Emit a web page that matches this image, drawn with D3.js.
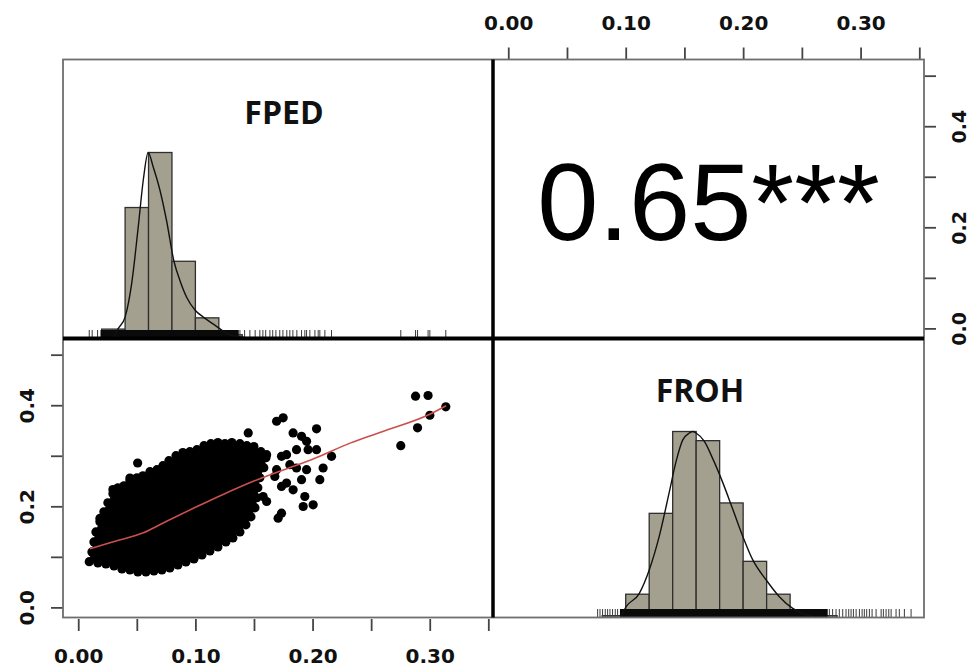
<!DOCTYPE html>
<html>
<head>
<meta charset="utf-8">
<script src="https://cdn.jsdelivr.net/npm/d3@7"></script>
<style>
  html, body { margin: 0; padding: 0; background: #ffffff; }
  svg { display: block; }
</style>
</head>
<body>
<svg id="chart" width="972" height="669"></svg>
<script>
// ---- Variables and correlation ----
const variables = ["FPED", "FROH"];
const corrValue = "0.65";
const corrStars = "***";

// ---- Axis ticks ----
const xTicks = [0, 0.05, 0.10, 0.15, 0.20, 0.25, 0.30, 0.35];
const xTickLabels = ["0.00", "", "0.10", "", "0.20", "", "0.30", ""];
const yTicks = [0, 0.1, 0.2, 0.3, 0.4, 0.5];
const yTickLabels = ["0.0", "", "0.2", "", "0.4", ""];

// ---- FPED histogram (bin starts, density) and density curve ----
const binWidth = 0.02;
const fpedBinStart = [0.02, 0.04, 0.06, 0.08, 0.10, 0.12, 0.14];
const fpedDensity  = [1.1, 15.35, 21.8, 9.05, 2.42, 0.44, 0.11];
const fpedCurveX = [0.030, 0.034, 0.040, 0.0456, 0.0512, 0.0555, 0.0597, 0.064, 0.0697, 0.0754, 0.0817, 0.0868, 0.0925, 0.100, 0.1067, 0.115, 0.121, 0.129, 0.142];
const fpedCurveY = [0.0, 1.13, 2.51, 6.43, 13.06, 18.55, 21.8, 20.1, 17.4, 13.8, 9.05, 6.8, 4.84, 3.29, 2.51, 1.72, 1.13, 0.44, 0.11];

// ---- FROH histogram and density curve ----
const frohBinStart = [0.08, 0.10, 0.12, 0.14, 0.16, 0.18, 0.20, 0.22, 0.24, 0.26];
const frohDensity  = [0.13, 1.68, 7.51, 13.41, 12.75, 8.26, 4.05, 1.68, 0.40, 0.13];
const frohCurveX = [0.0963, 0.0988, 0.1116, 0.1201, 0.1286, 0.1371, 0.1428, 0.1485, 0.1542, 0.1570, 0.1599, 0.1670, 0.1740, 0.1825, 0.1911, 0.1996, 0.2081, 0.2195, 0.2308, 0.2422, 0.2507, 0.2606];
const frohCurveY = [0.0, 0.54, 1.74, 3.45, 5.87, 9.04, 11.22, 12.79, 13.3, 13.41, 13.3, 12.69, 11.47, 9.76, 7.82, 5.87, 4.17, 2.72, 1.50, 0.66, 0.30, 0.05];

// ---- Rug marks: dense range plus individual ticks ----
const fpedRugBand = [0.019, 0.137];
const fpedRugTicks = [0.0094, 0.0119, 0.0165, 0.138, 0.142, 0.1465, 0.151, 0.155, 0.1576, 0.160, 0.1636, 0.166, 0.1687, 0.172, 0.1747, 0.178, 0.1806, 0.1832, 0.1866, 0.1906, 0.1934, 0.1949, 0.1977, 0.202, 0.2048, 0.2062, 0.2105, 0.2162, 0.2753, 0.2879, 0.2896, 0.2986, 0.3001, 0.3137];
const frohRugBand = [0.0951, 0.272];
const frohRugTicks = [0.0761, 0.0781, 0.0803, 0.0826, 0.0846, 0.0866, 0.0888, 0.0911, 0.0931, 0.2734, 0.2762, 0.2791, 0.2819, 0.2848, 0.2876, 0.2899, 0.2919, 0.2939, 0.2962, 0.2990, 0.3013, 0.3032, 0.3052, 0.3075, 0.3098, 0.3132, 0.3175, 0.3194, 0.3217, 0.3240, 0.3260, 0.3302, 0.3330, 0.3373, 0.3430];

// ---- Scatter: outline of the dense core (FPED, FROH) ----
const coreX = [0.0094, 0.0117, 0.0134, 0.0151, 0.0185, 0.0219, 0.0253, 0.0296, 0.0339, 0.0390, 0.0441, 0.0501, 0.0552, 0.0612, 0.0672, 0.0723, 0.0774, 0.0834, 0.0893, 0.0953, 0.1013, 0.1073, 0.1132, 0.1192, 0.1252, 0.1311, 0.1380, 0.1439, 0.1499, 0.1559, 0.1602, 0.1584, 0.1550, 0.1533, 0.1525, 0.1508, 0.1474, 0.1431, 0.1380, 0.1320, 0.1260, 0.1192, 0.1124, 0.1056, 0.0987, 0.0919, 0.0851, 0.0782, 0.0714, 0.0646, 0.0578, 0.0509, 0.0441, 0.0373, 0.0305, 0.0236, 0.0168];
const coreY = [0.0905, 0.1097, 0.1296, 0.1494, 0.1692, 0.1891, 0.2069, 0.2248, 0.2367, 0.2407, 0.2506, 0.2565, 0.2605, 0.2685, 0.2724, 0.2804, 0.2903, 0.3002, 0.3062, 0.3081, 0.3121, 0.3200, 0.3240, 0.3260, 0.3240, 0.3260, 0.3240, 0.3200, 0.3181, 0.3081, 0.2962, 0.2764, 0.2565, 0.2367, 0.2169, 0.1970, 0.1792, 0.1633, 0.1494, 0.1375, 0.1296, 0.1196, 0.1117, 0.1038, 0.0958, 0.0899, 0.0839, 0.0780, 0.0740, 0.0720, 0.0700, 0.0700, 0.0740, 0.0760, 0.0820, 0.0859, 0.0879];

// ---- Scatter: individual points outside the core ----
const pointX = [0.0507, 0.0296, 0.0441, 0.0185, 0.1451, 0.1693, 0.1749, 0.1834, 0.1906, 0.1949, 0.2034, 0.1608, 0.1735, 0.1778, 0.1863, 0.1962, 0.2034, 0.2162, 0.1806, 0.1693, 0.1863, 0.1949, 0.2090, 0.1678, 0.1778, 0.1906, 0.2062, 0.1735, 0.1834, 0.1934, 0.1920, 0.2005, 0.1608, 0.1578, 0.1735, 0.1706, 0.1493, 0.0987, 0.2879, 0.2986, 0.3137, 0.3001, 0.2896, 0.2753];
const pointY = [0.2857, 0.2330, 0.2560, 0.1760, 0.3452, 0.3683, 0.3750, 0.3452, 0.3385, 0.3286, 0.3532, 0.3022, 0.2988, 0.3022, 0.3121, 0.3121, 0.3121, 0.2988, 0.2823, 0.2724, 0.2758, 0.2724, 0.2758, 0.2591, 0.2460, 0.2526, 0.2526, 0.2393, 0.2327, 0.2194, 0.1996, 0.2030, 0.2095, 0.2194, 0.1865, 0.1766, 0.1996, 0.0970, 0.4179, 0.4192, 0.3968, 0.3802, 0.3552, 0.3200];

// ---- Smoothed fit through the scatter ----
const loessX = [0.010, 0.030, 0.055, 0.075, 0.100, 0.125, 0.150, 0.175, 0.200, 0.232, 0.260, 0.300, 0.314];
const loessY = [0.116, 0.130, 0.147, 0.170, 0.198, 0.225, 0.250, 0.272, 0.293, 0.325, 0.348, 0.382, 0.399];

// ---- Layout ----
const colL = 63, colM = 493, colR = 924;
const rowT = 59.5, rowM = 338.5, rowB = 617.5;
const barFill = "#a3a08f";
const barStroke = "#2f2f2f";
const tickFont = "'DejaVu Sans', sans-serif";

const svg = d3.select("#chart");
const defs = svg.append("defs");
function clip(id, x0, y0, x1, y1) {
  defs.append("clipPath").attr("id", id)
    .append("rect").attr("x", x0).attr("y", y0).attr("width", x1 - x0).attr("height", y1 - y0);
  return `url(#${id})`;
}

// Scales
const xLeft  = d3.scaleLinear().domain([-0.013, 0.354]).range([colL, colM]);
const xRight = d3.scaleLinear().domain([-0.013, 0.354]).range([colM, colR]);
const yLower = d3.scaleLinear().domain([-0.02, 0.532]).range([rowB, rowM]);
const yUpper = d3.scaleLinear().domain([-0.02, 0.532]).range([rowM, rowT]);
const yFped  = d3.scaleLinear().domain([0, 1.5 * d3.max(fpedDensity)]).range([rowM, rowT]);
const yFroh  = d3.scaleLinear().domain([0, 1.5 * d3.max(frohDensity)]).range([rowB, rowM]);

// Diagonal panel: histogram, rug, density curve
function diagPanel(g, x, y, starts, dens, curveX, curveY, band, ticks, base) {
  g.selectAll("rect.bar").data(starts).join("rect").attr("class", "bar")
    .attr("x", d => x(d))
    .attr("width", d => x(d + binWidth) - x(d))
    .attr("y", (d, i) => y(dens[i]))
    .attr("height", (d, i) => y(0) - y(dens[i]))
    .attr("fill", barFill).attr("stroke", barStroke).attr("stroke-width", 1.3);

  const rugLen = 8.5;
  g.append("rect")
    .attr("x", x(band[0])).attr("width", x(band[1]) - x(band[0]))
    .attr("y", base - rugLen).attr("height", rugLen)
    .attr("fill", "#0a0a0a");
  g.selectAll("line.rug").data(ticks).join("line").attr("class", "rug")
    .attr("x1", d => x(d)).attr("x2", d => x(d))
    .attr("y1", base - rugLen).attr("y2", base)
    .attr("stroke", "#3a3a3a").attr("stroke-width", 1);

  const line = d3.line().x(d => x(d[0])).y(d => y(d[1])).curve(d3.curveMonotoneX);
  g.append("path").datum(curveX.map((v, i) => [v, curveY[i]]))
    .attr("d", line).attr("fill", "none").attr("stroke", "#111").attr("stroke-width", 1.4);
}

// Top-left: FPED
const gFped = svg.append("g").attr("clip-path", clip("c-fped", colL, rowT, colM, rowM));
diagPanel(gFped, xLeft, yFped, fpedBinStart, fpedDensity, fpedCurveX, fpedCurveY, fpedRugBand, fpedRugTicks, rowM);
svg.append("text").attr("x", 284).attr("y", 123.5)
  .attr("text-anchor", "middle")
  .style("font-family", "'Open Sans', sans-serif").style("font-weight", 700).style("font-size", "32px")
  .attr("fill", "#111").text(variables[0]);

// Bottom-right: FROH
const gFroh = svg.append("g").attr("clip-path", clip("c-froh", colM, rowM, colR, rowB));
diagPanel(gFroh, xRight, yFroh, frohBinStart, frohDensity, frohCurveX, frohCurveY, frohRugBand, frohRugTicks, rowB);
svg.append("text").attr("x", 700).attr("y", 402)
  .attr("text-anchor", "middle")
  .style("font-family", "'Open Sans', sans-serif").style("font-weight", 700).style("font-size", "32px")
  .attr("fill", "#111").text(variables[1]);

// Top-right: correlation coefficient
svg.append("text").attr("x", (colM + colR) / 2).attr("y", 239.5)
  .attr("text-anchor", "middle")
  .style("font-family", "'Liberation Sans', Arial, sans-serif").style("font-size", "110px")
  .attr("fill", "#000").text(corrValue + corrStars);

// Bottom-left: scatter with smoothed fit
const gSc = svg.append("g").attr("clip-path", clip("c-sc", colL, rowM, colM, rowB));
const r = 4.6;
const corePts = coreX.map((v, i) => [v, coreY[i]]);
gSc.append("path").datum(corePts)
  .attr("d", d3.line().x(d => xLeft(d[0])).y(d => yLower(d[1])).curve(d3.curveLinearClosed))
  .attr("fill", "#000").attr("stroke", "#000").attr("stroke-width", 1);
gSc.selectAll("circle.core").data(corePts).join("circle").attr("class", "core")
  .attr("cx", d => xLeft(d[0])).attr("cy", d => yLower(d[1])).attr("r", r).attr("fill", "#000");
gSc.selectAll("circle.pt").data(pointX.map((v, i) => [v, pointY[i]])).join("circle").attr("class", "pt")
  .attr("cx", d => xLeft(d[0])).attr("cy", d => yLower(d[1])).attr("r", r).attr("fill", "#000");
gSc.append("path").datum(loessX.map((v, i) => [v, loessY[i]]))
  .attr("d", d3.line().x(d => xLeft(d[0])).y(d => yLower(d[1])).curve(d3.curveMonotoneX))
  .attr("fill", "none").attr("stroke", "#c9504c").attr("stroke-width", 1.6);

// ---- Axes ----
function styleAxis(g) {
  g.select(".domain").remove();
  g.selectAll(".tick line").attr("stroke", "#444").attr("stroke-width", 1.8);
  g.selectAll(".tick text")
    .style("font-family", tickFont).style("font-weight", 700).style("font-size", "20px")
    .attr("fill", "#111");
}

// bottom (FPED)
svg.append("g").attr("transform", `translate(0,${rowB + 1.5})`)
  .call(d3.axisBottom(xLeft).tickValues(xTicks).tickSize(12).tickPadding(18).tickFormat((d, i) => xTickLabels[i]))
  .call(styleAxis)
  .call(g => g.selectAll(".tick text").attr("dy", "0.71em"));

// top (FROH)
svg.append("g").attr("transform", `translate(0,${rowT})`)
  .call(d3.axisTop(xRight).tickValues(xTicks).tickSize(12).tickPadding(18).tickFormat((d, i) => xTickLabels[i]))
  .call(styleAxis);

// left (FROH)
svg.append("g").attr("transform", `translate(${colL},0)`)
  .call(d3.axisLeft(yLower).tickValues(yTicks).tickSize(12).tickFormat((d, i) => yTickLabels[i]))
  .call(styleAxis)
  .call(g => g.selectAll(".tick text")
    .attr("x", null).attr("dy", null).attr("text-anchor", "middle")
    .attr("transform", "translate(-29.5,0) rotate(-90)"));

// right (FROH)
svg.append("g").attr("transform", `translate(${colR},0)`)
  .call(d3.axisRight(yUpper).tickValues(yTicks).tickSize(12).tickFormat((d, i) => yTickLabels[i]))
  .call(styleAxis)
  .call(g => g.selectAll(".tick text")
    .attr("x", null).attr("dy", null).attr("text-anchor", "middle")
    .style("font-size", "19px")
    .attr("transform", "translate(42,0) rotate(-90)"));

// ---- Panel frames ----
svg.append("rect").attr("x", colL).attr("y", rowT)
  .attr("width", colR - colL).attr("height", rowB - rowT)
  .attr("fill", "none").attr("stroke", "#6e6e6e").attr("stroke-width", 1.8);
svg.append("line").attr("x1", colM).attr("x2", colM).attr("y1", rowT).attr("y2", rowB)
  .attr("stroke", "#000").attr("stroke-width", 3.5);
svg.append("line").attr("x1", colL).attr("x2", colR).attr("y1", rowM).attr("y2", rowM)
  .attr("stroke", "#000").attr("stroke-width", 4);
</script>
</body>
</html>
